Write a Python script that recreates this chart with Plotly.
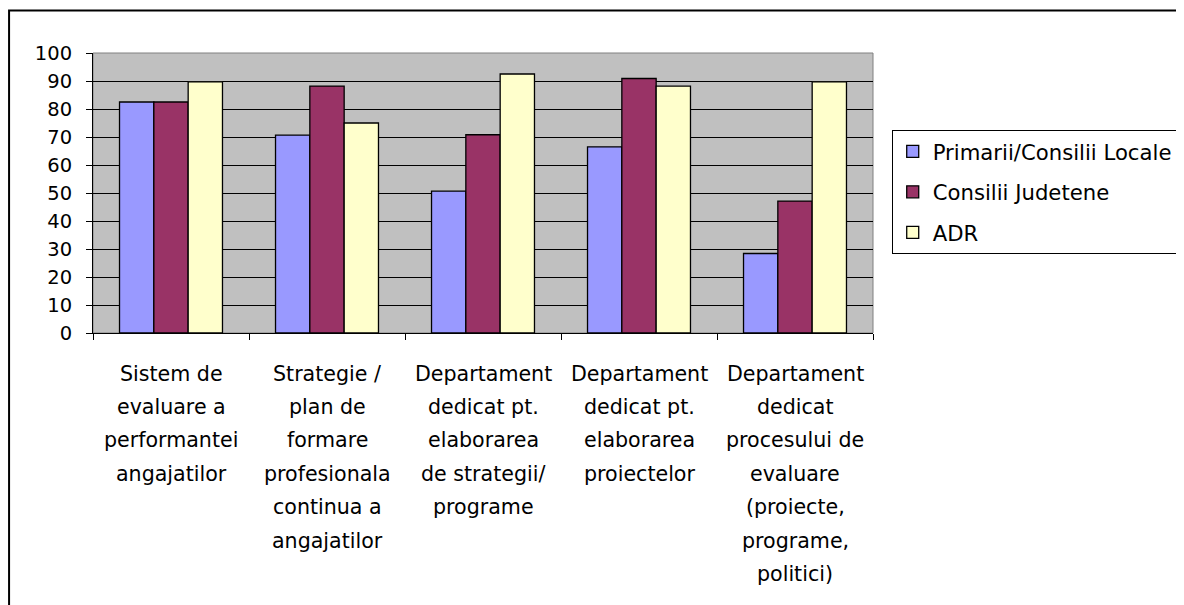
import plotly.graph_objects as go

categories = [
    "Sistem de<br>evaluare a<br>performantei<br>angajatilor",
    "Strategie /<br>plan de<br>formare<br>profesionala<br>continua a<br>angajatilor",
    "Departament<br>dedicat pt.<br>elaborarea<br>de strategii/<br>programe",
    "Departament<br>dedicat pt.<br>elaborarea<br>proiectelor",
    "Departament<br>dedicat<br>procesului de<br>evaluare<br>(proiecte,<br>programe,<br>politici)",
]
series_names = ["Primarii/Consilii Locale", "Consilii Judetene", "ADR"]
primarii = [82.5, 70.7, 50.7, 66.5, 28.4]
consilii = [82.5, 88.2, 70.8, 90.9, 47.1]
adr = [89.7, 75.0, 92.5, 88.2, 89.7]
y_ticks = [0, 10, 20, 30, 40, 50, 60, 70, 80, 90, 100]

colors = ["#9999FF", "#993366", "#FFFFCC"]
values = [primarii, consilii, adr]

fig = go.Figure()
for i, (name, vals) in enumerate(zip(series_names, values)):
    fig.add_trace(go.Bar(
        x=categories, y=vals, name=name,
        marker=dict(color=colors[i], line=dict(color="black", width=1.3)),
        legendgroup=name,
    ))

# category labels: one annotation per line to mimic the larger line spacing
annotations = []
for cat in categories:
    for j, line in enumerate(cat.split("<br>")):
        annotations.append(dict(
            x=cat, xref="x", y=0, yref="y", text=line, showarrow=False,
            yanchor="middle", xanchor="center", yshift=-(40.5 + 33.4 * j),
            font=dict(family="DejaVu Sans", size=20.6, color="black"),
        ))

fig.update_layout(
    width=1184, height=597,
    margin=dict(l=85, r=318.5, t=45, b=272, autoexpand=False),
    paper_bgcolor="white", plot_bgcolor="#C0C0C0",
    barmode="group", bargap=0.34, bargroupgap=0,
    showlegend=True,
    legend=dict(
        x=1.024, y=0.725, xanchor="left", yanchor="top",
        bgcolor="white", bordercolor="black", borderwidth=1,
        font=dict(family="DejaVu Sans", size=21.2, color="black"),
        traceorder="grouped", tracegroupgap=10, itemwidth=30,
    ),
    annotations=annotations,
    shapes=[
        dict(type="rect", xref="paper", yref="paper", x0=0, x1=1, y0=0, y1=1,
             line=dict(color="#808080", width=1), layer="below"),
        dict(type="rect", xref="paper", yref="paper",
             x0=-0.1076, x1=1.41, y0=-1.0, y1=1.152,
             line=dict(color="black", width=2)),
    ],
)
fig.update_xaxes(
    showticklabels=False, showline=True, linecolor="black", linewidth=1,
    ticks="outside", tickson="boundaries", ticklen=6, tickcolor="black",
    showgrid=False, zeroline=False,
)
fig.update_yaxes(
    range=[0, 100], tickvals=y_ticks, showline=True, linecolor="black", linewidth=1,
    ticks="outside", ticklen=6, tickcolor="black",
    showgrid=True, gridcolor="black", gridwidth=1, zeroline=False,
    tickfont=dict(family="DejaVu Sans", size=19.5, color="black"),
    ticklabelstandoff=10,
)

fig.write_html("out.html")
